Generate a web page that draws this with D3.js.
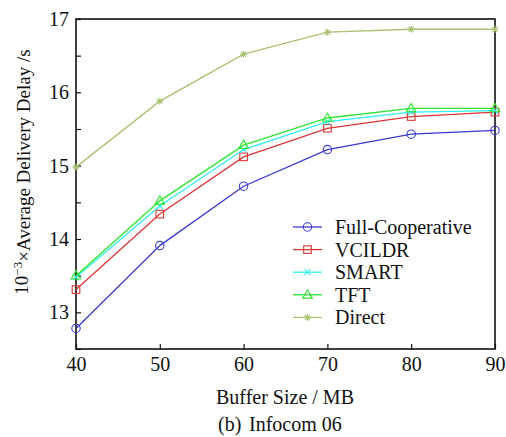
<!DOCTYPE html>
<html>
<head>
<meta charset="utf-8">
<script src="https://cdn.jsdelivr.net/npm/d3@7"></script>
<style>
  html, body { margin: 0; padding: 0; background: #fff; }
  svg { display: block; }
</style>
</head>
<body>
<svg id="chart" width="506" height="437"></svg>
<script>
// Buffer size (MB) on the x axis
const bufferSizes = [40, 50, 60, 70, 80, 90];

// Average delivery delay (x10^-3 s) per scheme
const fullCooperative = [12.78, 13.91, 14.72, 15.22, 15.43, 15.48];
const vcildr          = [13.31, 14.34, 15.12, 15.51, 15.67, 15.73];
const smart           = [13.48, 14.45, 15.22, 15.60, 15.73, 15.75];
const tft             = [13.50, 14.52, 15.28, 15.65, 15.78, 15.78];
const direct          = [14.98, 15.88, 16.52, 16.82, 16.86, 16.86];

const seriesNames = ["Full-Cooperative", "VCILDR", "SMART", "TFT", "Direct"];
const seriesValues = [fullCooperative, vcildr, smart, tft, direct];
const seriesColors = ["#3a3acb", "#d93636", "#2ff0f0", "#2ee42e", "#a9c172"];
const seriesMarkers = ["circle", "square", "cross", "triangle", "star"];

const xTicks = [40, 50, 60, 70, 80, 90];
const yTicks = [13, 14, 15, 16, 17];
const yMinorTicks = [12.5, 13.5, 14.5, 15.5, 16.5];

const FONT = "Liberation Serif";

const svg = d3.select("#chart");
const plot = { left: 76, top: 19, right: 495, bottom: 349 };

const x = d3.scaleLinear().domain([40, 90]).range([plot.left, plot.right]);
const y = d3.scaleLinear().domain([12.5, 17]).range([plot.bottom, plot.top]);

// Frame
svg.append("rect")
  .attr("x", plot.left).attr("y", plot.top)
  .attr("width", plot.right - plot.left).attr("height", plot.bottom - plot.top)
  .attr("fill", "none").attr("stroke", "#111").attr("stroke-width", 1.6);

// Bottom axis with inward ticks
const xAxis = svg.append("g")
  .attr("transform", `translate(0,${plot.bottom})`)
  .call(d3.axisBottom(x).tickValues(xTicks).tickFormat(d3.format("d"))
    .tickSizeInner(-5).tickSizeOuter(0).tickPadding(8));
xAxis.attr("font-family", FONT).attr("font-size", 20);
xAxis.select(".domain").remove();
xAxis.selectAll("line").attr("stroke", "#111").attr("stroke-width", 1.2);
xAxis.selectAll("text").attr("fill", "#111");

// Left axis with inward ticks
const yAxis = svg.append("g")
  .attr("transform", `translate(${plot.left},0)`)
  .call(d3.axisLeft(y).tickValues(yTicks).tickFormat(d3.format("d"))
    .tickSizeInner(-5).tickSizeOuter(0).tickPadding(7));
yAxis.attr("font-family", FONT).attr("font-size", 20);
yAxis.select(".domain").remove();
yAxis.selectAll("line").attr("stroke", "#111").attr("stroke-width", 1.2);
yAxis.selectAll("text").attr("fill", "#111");

const yMinor = svg.append("g")
  .attr("transform", `translate(${plot.left},0)`)
  .call(d3.axisLeft(y).tickValues(yMinorTicks).tickSizeInner(-5).tickSizeOuter(0).tickFormat(""));
yMinor.select(".domain").remove();
yMinor.selectAll("line").attr("stroke", "#111").attr("stroke-width", 1.2);

// Marker drawing
function drawMarker(g, type, cx, cy, color) {
  if (type === "circle") {
    g.append("circle").attr("cx", cx).attr("cy", cy).attr("r", 4.2)
      .attr("fill", "none").attr("stroke", color).attr("stroke-width", 1.1);
  } else if (type === "square") {
    g.append("rect").attr("x", cx - 3.8).attr("y", cy - 3.8).attr("width", 7.6).attr("height", 7.6)
      .attr("fill", "none").attr("stroke", color).attr("stroke-width", 1.1);
  } else if (type === "triangle") {
    g.append("path").attr("d", `M${cx},${cy - 5} L${cx + 4.8},${cy + 3.3} L${cx - 4.8},${cy + 3.3} Z`)
      .attr("fill", "none").attr("stroke", color).attr("stroke-width", 1.1);
  } else if (type === "cross") {
    g.append("path").attr("d", `M${cx - 3},${cy - 3} L${cx + 3},${cy + 3} M${cx - 3},${cy + 3} L${cx + 3},${cy - 3}`)
      .attr("stroke", color).attr("stroke-width", 1.1);
  } else if (type === "star") {
    g.append("path").attr("d", `M${cx - 3.5},${cy} L${cx + 3.5},${cy} M${cx},${cy - 3.5} L${cx},${cy + 3.5} M${cx - 2.6},${cy - 2.6} L${cx + 2.6},${cy + 2.6} M${cx - 2.6},${cy + 2.6} L${cx + 2.6},${cy - 2.6}`)
      .attr("stroke", color).attr("stroke-width", 1.1);
  }
}

// Series lines with markers
const line = d3.line().x(d => x(d[0])).y(d => y(d[1]));
seriesValues.forEach((vals, i) => {
  const pts = bufferSizes.map((b, j) => [b, vals[j]]);
  const g = svg.append("g");
  g.append("path").datum(pts).attr("d", line)
    .attr("fill", "none").attr("stroke", seriesColors[i]).attr("stroke-width", 1.3);
  pts.forEach(p => drawMarker(g, seriesMarkers[i], x(p[0]), y(p[1]), seriesColors[i]));
});

// Legend
const legendX = 293, legendY0 = 227, legendStep = 22.6;
seriesNames.forEach((name, i) => {
  const ly = legendY0 + i * legendStep;
  const g = svg.append("g");
  g.append("line").attr("x1", legendX).attr("x2", legendX + 29).attr("y1", ly).attr("y2", ly)
    .attr("stroke", seriesColors[i]).attr("stroke-width", 1.3);
  drawMarker(g, seriesMarkers[i], legendX + 14.5, ly, seriesColors[i]);
  g.append("text").attr("x", legendX + 42).attr("y", ly).attr("dy", "0.35em")
    .attr("font-family", FONT).attr("font-size", 20).attr("fill", "#111").text(name);
});

// Axis titles
svg.append("text").attr("x", 285).attr("y", 397).attr("dy", "0.35em")
  .attr("text-anchor", "middle").attr("font-family", FONT).attr("font-size", 20)
  .attr("fill", "#111").text("Buffer Size / MB");

const yTitle = svg.append("text")
  .attr("transform", "translate(21,172) rotate(-90)")
  .attr("text-anchor", "middle").attr("dy", "0.35em")
  .attr("font-family", FONT).attr("font-size", 19).attr("fill", "#111");
yTitle.append("tspan").text("10");
yTitle.append("tspan").attr("dy", "-0.45em").attr("font-size", 13).text("\u22123");
yTitle.append("tspan").attr("dy", "0.45em").text("\u00d7Average Delivery Delay /s");

// Caption
const caption = svg.append("text").attr("y", 431)
  .attr("font-family", FONT).attr("font-size", 20).attr("fill", "#111");
caption.append("tspan").attr("x", 218).text("(b)");
caption.append("tspan").attr("x", 249).text("Infocom 06");
</script>
</body>
</html>
